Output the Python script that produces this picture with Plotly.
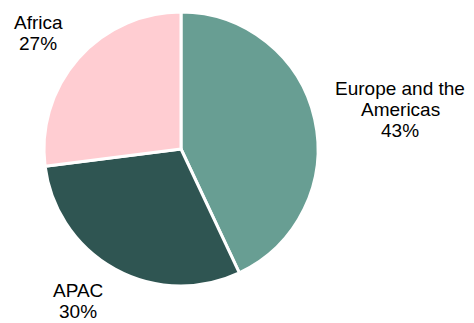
import plotly.graph_objects as go

regions = ["Europe and the Americas", "APAC", "Africa"]
shares = [43, 30, 27]
label_lines = [["Europe and the", "Americas"], ["APAC"], ["Africa"]]
colors = ["#689E93", "#2F5552", "#FFCDD2"]
label_pos = [(400, 109), (78, 301), (38, 33)]  # pixel centres of labels

W, H = 474, 323
cx, cy, r = 181, 149, 137
line_h = 21

fig = go.Figure(go.Pie(
    labels=regions, values=shares, sort=False, direction="clockwise", rotation=0,
    marker=dict(colors=colors, line=dict(color="white", width=3)),
    textinfo="none", hoverinfo="label+percent", showlegend=False,
    domain=dict(x=[(cx - r) / W, (cx + r) / W], y=[1 - (cy + r) / H, 1 - (cy - r) / H]),
))

total = sum(shares)
for lines, v, (px, py) in zip(label_lines, shares, label_pos):
    all_lines = lines + [f"{round(v / total * 100)}%"]
    n = len(all_lines)
    for i, t in enumerate(all_lines):
        ly = py + (i - (n - 1) / 2) * line_h
        fig.add_annotation(
            x=px / W, y=1 - ly / H, xref="paper", yref="paper",
            text=t, showarrow=False,
            font=dict(family="Liberation Sans, Arial", size=19, color="#000000"),
            align="center", xanchor="center", yanchor="middle",
        )

fig.update_layout(width=W, height=H, margin=dict(l=0, r=0, t=0, b=0),
                  paper_bgcolor="white", plot_bgcolor="white")
fig.write_html("out.html", config={"displayModeBar": False},
               post_script="document.body.style.margin='0';")
